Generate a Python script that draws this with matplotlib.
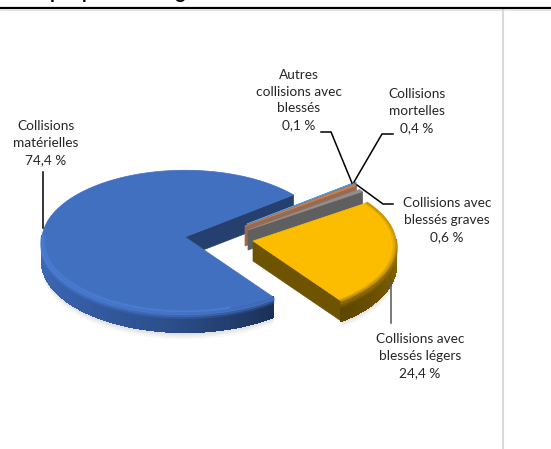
import numpy as np
import matplotlib
matplotlib.use("Agg")
from matplotlib import pyplot as plt
from matplotlib.collections import PolyCollection
from matplotlib.colors import LinearSegmentedColormap

##### DATA #####
categories = ["Collisions\nmatérielles", "Collisions avec\nblessés légers",
              "Collisions avec\nblessés graves", "Collisions\nmortelles",
              "Autres\ncollisions avec\nblessés"]
values = [74.4, 24.4, 0.6, 0.4, 0.1]
pct_labels = ["74,4 %", "24,4 %", "0,6 %", "0,4 %", "0,1 %"]
################

top_colors = ["#4070bf", "#fcbc00", "#8f8f8f", "#c97f50", "#5b9bd5"]
wall_colors = ["#25406f", "#6e5300", "#5f5f5f", "#9a6a50", "#41719c"]
side_stops = [["#3f6cb8", "#365fa8", "#2c4f8c", "#1b3057"],
              ["#8a6800", "#7a5c00", "#6a4f00", "#5e4600"],
              ["#555555"] * 4, ["#8a5a3a"] * 4, ["#41719c"] * 4]
apex = [(185, 237), (253, 241), (248, 230), (245, 226), (247, 224)]
draw_order = [0, 4, 3, 2, 1]
label_pos = [(46, 143), (420, 356), (447, 220), (417, 111), (299, 100)]
leaders = [[(43, 172), (43, 228)],
           [(391, 280), (391, 323)],
           [(393, 204), (383, 204), (357, 185)],
           [(393, 134), (382, 134), (354, 182)],
           [(321, 132), (331, 132), (352, 183)]]
leader_colors = ["#000000", "#555555", "#000000", "#000000", "#000000"]

RX, RY, DEPTH, PERSP = 143, 71, 20, 0.06
START = 38

plt.rcParams['font.family'] = ['Lato', 'DejaVu Sans']
fig = plt.figure(figsize=(5.51, 4.49), dpi=100)
ax = fig.add_axes([0, 0, 1, 1])
ax.set_xlim(0, 551)
ax.set_ylim(449, 0)
ax.axis("off")


def project(center, theta, scale=1.0):
    theta = np.radians(theta)
    k = (1 - PERSP * np.sin(theta)) * scale
    return center[0] + RX * np.cos(theta) * k, center[1] - RY * np.sin(theta) * k


def draw_slice(i, t1, t2, z):
    center = apex[i]
    th = np.linspace(t1, t2, max(int(t2 - t1) * 4, 4))
    x, y = project(center, th)

    # cut face
    ax.fill([center[0], x[0], x[0], center[0]],
            [center[1], y[0], y[0] + DEPTH, center[1] + DEPTH],
            color=wall_colors[i], lw=0.5, zorder=z)

    # outer wall, only the front part shows
    front = np.sin(np.radians(th)) < 0.02
    if front.sum() > 1:
        cmap = LinearSegmentedColormap.from_list("side", side_stops[i])
        fx, fy, ft = x[front], y[front], th[front]
        quads = [[(fx[j], fy[j]), (fx[j + 1], fy[j + 1]),
                  (fx[j + 1], fy[j + 1] + DEPTH), (fx[j], fy[j] + DEPTH)]
                 for j in range(len(fx) - 1)]
        shade = (ft[:-1] - ft.min()) / (ft.max() - ft.min())
        if i == 1:
            shade = 1 - shade
        cols = cmap(shade)
        ax.add_collection(PolyCollection(quads, facecolors=cols, edgecolors=cols,
                                         linewidths=0.6, antialiased=False, zorder=z))
        # bevel under the rim
        rim = "#4f82dc" if i == 0 else "#9a7400"
        for off, a in [(1.5, 0.7), (3.5, 0.45), (5.5, 0.2)]:
            ax.plot(fx, fy + off, color=rim, lw=2, alpha=a, zorder=z + 0.2)

    # top
    ax.fill(np.r_[center[0], x], np.r_[center[1], y], color=top_colors[i],
            lw=0.5, zorder=z + 0.3)

    # soft rim on the top face
    if i == 0:
        sel = np.cos(np.radians(th)) < 0.3
        for s, a in [(0.995, 0.45), (0.985, 0.3), (0.975, 0.15)]:
            rx, ry = project(center, th[front & sel], s)
            ax.plot(rx, ry, color="#5287e0", lw=1.2, alpha=a, zorder=z + 0.4)
    if i == 1:
        for s, a in [(0.998, 0.6), (0.988, 0.35), (0.978, 0.15)]:
            rx, ry = project(center, th, s)
            ax.plot(rx, ry, color="#a87f00", lw=1.2, alpha=a, zorder=z + 0.4)


angles = np.array(values) / np.sum(values) * 360
t = START
ranges = []
for a in angles:
    ranges.append((t, t + a))
    t += a

# ground shadow
for i in [0, 1]:
    t1, t2 = ranges[i]
    th = np.linspace(t1, t2, 300)
    th = th[np.sin(np.radians(th)) < 0.1]
    x, y = project(apex[i], th)
    for off, a in [(3, 0.10), (5, 0.08), (7, 0.06)]:
        ax.fill(np.r_[x, x[::-1]], np.r_[y + DEPTH + off, y[::-1]],
                color="#888888", alpha=a, lw=0, zorder=0)

for rank, i in enumerate(draw_order):
    draw_slice(i, ranges[i][0], ranges[i][1], rank + 1)

for pos, cat, pct in zip(label_pos, categories, pct_labels):
    ax.text(pos[0], pos[1], cat + "\n" + pct, ha="center", va="center",
            fontsize=9.8, color="#262626", linespacing=1.49, zorder=20)

for pts, col in zip(leaders, leader_colors):
    ax.plot([p[0] for p in pts], [p[1] for p in pts], color=col, lw=1.1, zorder=19)

# page furniture
ax.plot([0, 551], [8, 8], color="black", lw=1.6, zorder=21)
ax.plot([0, 551], [9.5, 9.5], color="#e4e4e4", lw=0.7, zorder=20)
ax.plot([502.5, 502.5], [9, 449], color="#d9d9d9", lw=1.5, zorder=20)
ax.text(20, -1, "Graphique 1 : Catégories de collisions", fontsize=13.5,
        fontweight="bold", color="black", va="baseline", ha="left", clip_on=True)

fig.savefig("out.png", dpi=100)
